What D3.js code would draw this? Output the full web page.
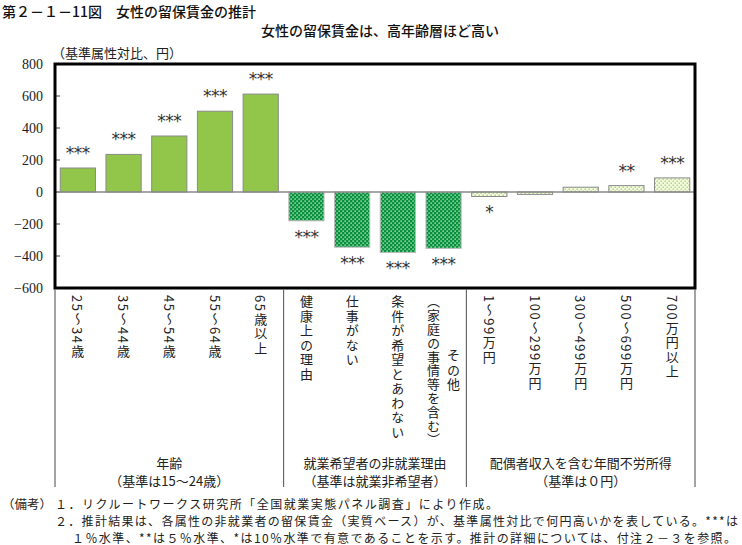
<!DOCTYPE html>
<html><head><meta charset="utf-8">
<script src="https://cdn.jsdelivr.net/npm/d3@7"></script>
<style>
html,body{margin:0;padding:0;background:#fff;}
svg{display:block;}
.jp{font-family:"Noto Sans CJK JP","Noto Sans",sans-serif;}
.serif{font-family:"Liberation Serif","DejaVu Serif",serif;}
.vt{writing-mode:vertical-rl;}
</style>
</head><body>
<svg id="c" width="742" height="545"></svg>
<script>
// ---- data ----
const ageCats = ["25～34歳","35～44歳","45～54歳","55～64歳","65歳以上"];
const ageValues = [150, 235, 350, 505, 612];
const ageSig = ["***","***","***","***","***"];

const reasonCats = [["健康上の理由"],["仕事がない"],["条件が希望とあわない"],["その他","（家庭の事情等を含む）"]];
const reasonValues = [-180, -345, -378, -352];
const reasonSig = ["***","***","***","***"];

const incomeCats = ["1～99万円","100～299万円","300～499万円","500～699万円","700万円以上"];
const incomeValues = [-28, -15, 30, 40, 88];
const incomeSig = ["*","","","**","***"];

const groupNames = [["年齢","（基準は15～24歳）"],["就業希望者の非就業理由","（基準は就業非希望者）"],["配偶者収入を含む年間不労所得","（基準は０円）"]];
const yTicks = [-600,-400,-200,0,200,400,600,800];

const titleText = "第２－１－11図　女性の留保賃金の推計";
const subtitleText = "女性の留保賃金は、高年齢層ほど高い";
const unitText = "（基準属性対比、円）";
const notes = [
  "１．リクルートワークス研究所「全国就業実態パネル調査」により作成。",
  "２．推計結果は、各属性の非就業者の留保賃金（実質ベース）が、基準属性対比で何円高いかを表している。***は",
  "１％水準、**は５％水準、*は10％水準で有意であることを示す。推計の詳細については、付注２－３を参照。"
];

// ---- build ----
const rows = [];
ageCats.forEach((c,i)=>rows.push({label:[c], v:ageValues[i], sig:ageSig[i], g:0}));
reasonCats.forEach((c,i)=>rows.push({label:c, v:reasonValues[i], sig:reasonSig[i], g:1}));
incomeCats.forEach((c,i)=>rows.push({label:[c], v:incomeValues[i], sig:incomeSig[i], g:2}));
rows.forEach((r,i)=>r.i=i);

const L=55, R=695, T=64, B=288;
const svg = d3.select("#c");

const x = d3.scaleBand().domain(rows.map(r=>r.i)).range([L,R]).paddingInner(0.23).paddingOuter(0.115);
const y = d3.scaleLinear().domain([-600,800]).range([B,T]);

// patterns
const defs = svg.append("defs");
const p1 = defs.append("pattern").attr("id","pDark").attr("patternUnits","userSpaceOnUse").attr("width",4).attr("height",4);
p1.append("rect").attr("width",4).attr("height",4).attr("fill","#06923a");
p1.append("rect").attr("x",0.5).attr("y",0.5).attr("width",1.2).attr("height",1.2).attr("fill","#ffffff");
p1.append("rect").attr("x",2.5).attr("y",2.5).attr("width",1.2).attr("height",1.2).attr("fill","#ffffff");
const p2 = defs.append("pattern").attr("id","pLight").attr("patternUnits","userSpaceOnUse").attr("width",4).attr("height",4);
p2.append("rect").attr("width",4).attr("height",4).attr("fill","#f4f9e6");
p2.append("rect").attr("x",0.5).attr("y",0.5).attr("width",1.4).attr("height",1.4).attr("fill","#a9d45a");
p2.append("rect").attr("x",2.5).attr("y",2.5).attr("width",1.4).attr("height",1.4).attr("fill","#a9d45a");

// titles
svg.append("text").attr("class","jp").attr("x",2).attr("y",11).attr("dominant-baseline","central")
  .attr("font-size",14).attr("font-weight",500).attr("fill","#111").text(titleText);
svg.append("text").attr("class","jp").attr("x",380).attr("y",30).attr("text-anchor","middle").attr("dominant-baseline","central")
  .attr("font-size",14).attr("font-weight",500).attr("fill","#111").text(subtitleText);
svg.append("text").attr("class","jp").attr("x",52).attr("y",52).attr("dominant-baseline","central")
  .attr("font-size",13).attr("fill","#222").text(unitText);

// y axis labels & ticks
const yAxis = d3.axisLeft(y).tickValues(yTicks).tickSize(0).tickPadding(12).tickFormat(d=>d<0?"−"+Math.abs(d):d);
const ga = svg.append("g").attr("transform",`translate(${L},0)`).call(yAxis);
ga.select(".domain").remove();
ga.selectAll("text").attr("font-size",14).attr("fill","#222").attr("font-family","Liberation Serif, serif");
svg.append("g").selectAll("line").data(yTicks.filter(t=>t!==800 && t!==-600)).join("line")
  .attr("x1",L).attr("x2",L+5).attr("y1",d=>y(d)).attr("y2",d=>y(d)).attr("stroke","#444").attr("stroke-width",1);

// bars
svg.append("g").selectAll("rect").data(rows).join("rect")
  .attr("x",d=>x(d.i)).attr("width",x.bandwidth())
  .attr("y",d=>Math.min(y(d.v),y(0))).attr("height",d=>Math.abs(y(d.v)-y(0)))
  .attr("fill",d=>d.g===0?"#92c64a":(d.g===1?"url(#pDark)":"url(#pLight)"))
  .attr("stroke",d=>d.g===1?"#bbbbbb":"#8a8a8a").attr("stroke-width",1);

// zero line
svg.append("line").attr("x1",L).attr("x2",R).attr("y1",y(0)).attr("y2",y(0)).attr("stroke","#8a8a8a").attr("stroke-width",1.5);

// significance stars
svg.append("g").selectAll("text").data(rows.filter(r=>r.sig)).join("text")
  .attr("x",d=>x(d.i)+x.bandwidth()/2)
  .attr("y",d=>d.v>=0? y(d.v)-9 : y(d.v)+22)
  .attr("text-anchor","middle")
  .attr("font-family","DejaVu Sans, sans-serif").attr("font-size",17).attr("letter-spacing",-0.5)
  .attr("fill","#333").text(d=>d.sig);

// frame
svg.append("rect").attr("x",L).attr("y",T).attr("width",R-L).attr("height",B-T)
  .attr("fill","none").attr("stroke","#000").attr("stroke-width",3);

// separators below
const sepX = [L, (x(4)+x.bandwidth()+x(5))/2, (x(8)+x.bandwidth()+x(9))/2, R];
svg.append("g").selectAll("line").data(sepX).join("line")
  .attr("x1",d=>d).attr("x2",d=>d).attr("y1",B+1).attr("y2",487)
  .attr("stroke","#666").attr("stroke-width",1.2);

// category labels (vertical)
const lab = svg.append("g").attr("class","jp").attr("font-size",13).attr("fill","#222");
rows.forEach(r=>{
  const cx = x(r.i)+x.bandwidth()/2;
  if(r.label.length===1){
    lab.append("text").attr("class","jp vt").attr("x",cx).attr("y",295)
      .attr("letter-spacing",1.5).text(r.label[0]);
  } else {
    lab.append("text").attr("class","jp vt").attr("x",cx-10).attr("y",295)
      .attr("letter-spacing",0.8).text(r.label[1]);
    lab.append("text").attr("class","jp vt").attr("x",cx+10).attr("y",349)
      .attr("letter-spacing",1.5).text(r.label[0]);
  }
});

// group labels
groupNames.forEach((g,i)=>{
  const cx = (sepX[i]+sepX[i+1])/2;
  svg.append("text").attr("class","jp").attr("x",cx).attr("y",462).attr("text-anchor","middle")
    .attr("dominant-baseline","central").attr("font-size",13).attr("fill","#222").text(g[0]);
  svg.append("text").attr("class","jp").attr("x",cx).attr("y",480).attr("text-anchor","middle")
    .attr("dominant-baseline","central").attr("font-size",13).attr("fill","#222").text(g[1]);
});

// notes
const nt = svg.append("g").attr("class","jp").attr("font-size",12).attr("fill","#222");
nt.append("text").attr("x",2).attr("y",503).attr("dominant-baseline","central").attr("textLength",50).attr("lengthAdjust","spacingAndGlyphs").text("（備考）");
nt.append("text").attr("x",55).attr("y",503).attr("dominant-baseline","central").attr("textLength",443).attr("lengthAdjust","spacing").text(notes[0]);
nt.append("text").attr("x",55).attr("y",520).attr("dominant-baseline","central").attr("textLength",683).attr("lengthAdjust","spacing").text(notes[1]);
nt.append("text").attr("x",72).attr("y",537).attr("dominant-baseline","central").attr("textLength",664).attr("lengthAdjust","spacing").text(notes[2]);
</script>
</body></html>
